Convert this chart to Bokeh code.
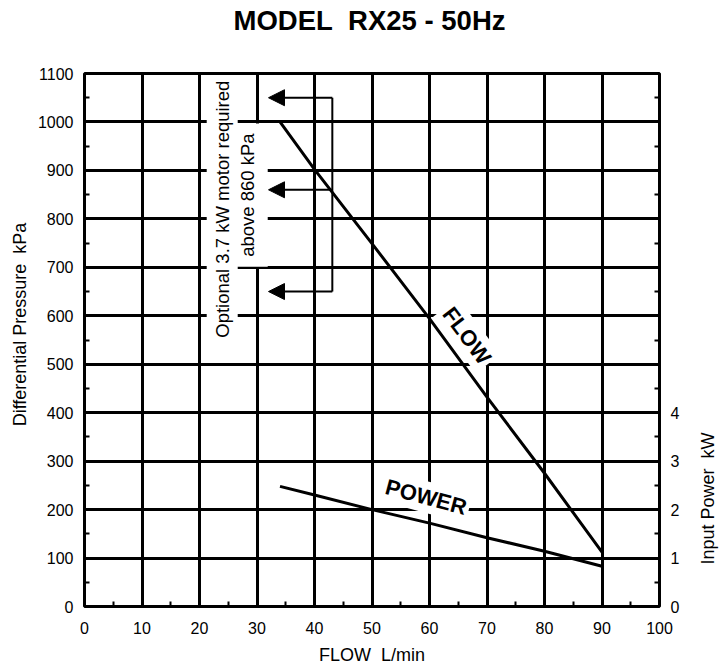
import math
from bokeh.plotting import figure
from bokeh.layouts import row, column
from bokeh.models import Range1d, LinearAxis, FixedTicker, Label, Arrow, NormalHead
from bokeh.embed import file_html
from bokeh.resources import INLINE

# ---- data ----
flow_lpm = [34, 40, 50, 60, 70, 80, 90]
pressure_kpa = [1000, 902, 749, 594, 432, 275, 112]
power_lpm = [34, 40, 50, 60, 70, 80, 90]
power_kw = [2.48, 2.30, 2.00, 1.72, 1.42, 1.14, 0.83]
x_ticks = list(range(0, 101, 10))
x_minor = list(range(5, 100, 10))
y_ticks = list(range(0, 1101, 100))
y_minor = list(range(50, 1100, 100))
kw_ticks = [0, 1, 2, 3, 4]
kw_minor = [k + 0.5 for k in range(0, 11)]
arrow_levels = [1050, 860, 650]
arrow_tail_x = 43.1
arrow_tip_x = 32.0

FONT = "Liberation Sans"
NB = "\u00a0"

W, H = 721, 667
TOP_H = 40
LEFT_W = 32
RIGHT_W = 38
MAIN_W = W - LEFT_W - RIGHT_W
MAIN_H = H - TOP_H


def blank(width, height, y_range=None):
    f = figure(width=width, height=height, output_backend="svg", toolbar_location=None,
               x_range=Range1d(0, width),
               y_range=y_range if y_range is not None else Range1d(0, height),
               x_axis_type=None, y_axis_type=None, min_border=0)
    f.outline_line_color = None
    f.background_fill_color = "white"
    f.border_fill_color = "white"
    f.xgrid.visible = False
    f.ygrid.visible = False
    return f


# ---- main chart ----
p = figure(width=MAIN_W, height=MAIN_H, output_backend="svg", toolbar_location=None,
           x_range=Range1d(0, 100), y_range=Range1d(0, 1100),
           min_border_left=84 - LEFT_W, min_border_right=62 - RIGHT_W,
           min_border_top=73 - TOP_H, min_border_bottom=61)
p.extra_y_ranges = {"power": Range1d(0, 11)}

p.background_fill_color = "white"
p.border_fill_color = "white"
p.outline_line_color = "black"
p.outline_line_width = 3
p.outline_line_alpha = 1

p.xaxis.ticker = FixedTicker(ticks=x_ticks, minor_ticks=x_minor)
p.yaxis.ticker = FixedTicker(ticks=y_ticks, minor_ticks=y_minor)
right = LinearAxis(y_range_name="power",
                   ticker=FixedTicker(ticks=kw_ticks, minor_ticks=kw_minor))
p.add_layout(right, "right")

for ax in [p.xaxis[0], p.yaxis[0], right]:
    ax.axis_line_color = None
    ax.major_tick_in = 0
    ax.major_tick_out = 0
    ax.minor_tick_in = 5
    ax.minor_tick_out = 0
    ax.minor_tick_line_width = 2
    ax.minor_tick_line_color = "black"
    ax.major_label_text_font = FONT
    ax.major_label_text_font_size = "16px"
    ax.major_label_text_color = "black"
    ax.major_label_standoff = 11
p.xaxis[0].major_label_standoff = 15
p.xaxis[0].axis_label = "FLOW" + NB + " L/min"
p.xaxis[0].axis_label_text_font = FONT
p.xaxis[0].axis_label_text_font_size = "18px"
p.xaxis[0].axis_label_text_font_style = "normal"
p.xaxis[0].axis_label_text_color = "black"
p.xaxis[0].axis_label_standoff = 8

p.xgrid.ticker = FixedTicker(ticks=x_ticks)
p.ygrid.ticker = FixedTicker(ticks=y_ticks)
for g in [p.xgrid[0], p.ygrid[0]]:
    g.grid_line_color = "black"
    g.grid_line_width = 3
    g.grid_line_alpha = 1

p.line(flow_lpm, pressure_kpa, line_width=3, line_color="black")
p.line(power_lpm, power_kw, y_range_name="power", line_width=3, line_color="black")

# motor note (white background breaks the grid, as in the reference)
p.add_layout(Label(x=28.3, y=849, text="above 860 kPa",
                   angle=math.pi / 2, text_align="center", text_baseline="middle",
                   text_font=FONT, text_font_size="18.5px", text_color="black",
                   background_fill_color="white", padding=10))
p.add_layout(Label(x=23.95, y=820, text="Optional 3.7 kW motor required",
                   angle=math.pi / 2, text_align="center", text_baseline="middle",
                   text_font=FONT, text_font_size="18.5px", text_color="black",
                   background_fill_color="white", padding=5))

p.add_layout(Label(x=66.5, y=559, text="FLOW", angle=math.radians(-53),
                   text_align="center", text_baseline="middle",
                   text_font=FONT, text_font_size="22px", text_font_style="bold",
                   text_color="black", background_fill_color="white", padding=3))
p.add_layout(Label(x=59.4, y=226, text="POWER", angle=math.radians(-15),
                   text_align="center", text_baseline="middle",
                   text_font=FONT, text_font_size="22px", text_font_style="bold",
                   text_color="black", background_fill_color="white", padding=3))

p.segment(x0=[arrow_tail_x], y0=[max(arrow_levels)], x1=[arrow_tail_x],
          y1=[min(arrow_levels)], line_width=2, line_color="black")
for lvl in arrow_levels:
    p.add_layout(Arrow(x_start=arrow_tail_x, y_start=lvl, x_end=arrow_tip_x, y_end=lvl,
                       line_width=2, line_color="black",
                       end=NormalHead(size=16, fill_color="black", line_color="black",
                                      line_width=1)))

# ---- title strip ----
top = blank(W, TOP_H)
top.add_layout(Label(x=369, y=TOP_H - 20, text="MODEL" + NB + " RX25 - 50Hz",
                     text_align="center", text_baseline="middle", text_font=FONT,
                     text_font_size="27.5px", text_font_style="bold", text_color="black"))

# ---- side strips (frames align with the chart frame, so they share its y range) ----
left = blank(LEFT_W, MAIN_H, y_range=p.y_range)
left.add_layout(Label(x=19, y=582, text="Differential Pressure" + NB + " kPa",
                      angle=math.pi / 2, text_align="center", text_baseline="middle",
                      text_font=FONT, text_font_size="18px", text_color="black"))

rgt = blank(RIGHT_W, MAIN_H, y_range=p.y_range)
rgt.add_layout(Label(x=707 - (W - RIGHT_W), y=223, text="Input Power" + NB + " kW",
                     angle=math.pi / 2, text_align="center", text_baseline="middle",
                     text_font=FONT, text_font_size="18px", text_color="black"))

layout = column(top, row(left, p, rgt, spacing=0), spacing=0)
open("out.html", "w").write(file_html(layout, INLINE))
